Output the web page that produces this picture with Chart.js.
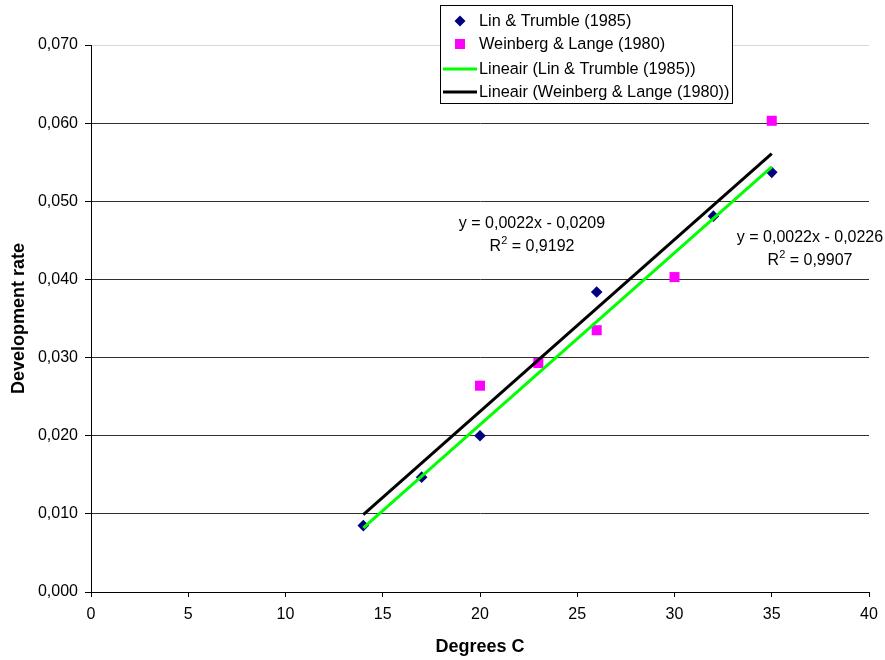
<!DOCTYPE html>
<html><head><meta charset="utf-8">
<script src="https://cdn.jsdelivr.net/npm/chart.js@4/dist/chart.umd.min.js"></script>
<style>html,body{margin:0;padding:0;background:#fff}#wrap{width:885px;height:660px}</style>
</head><body><div id="wrap"><canvas id="c" width="885" height="660"></canvas></div>
<script>
// ---- data ----
const linX = [14, 17, 20, 26, 32, 35];
const linY = [0.0085, 0.0147, 0.0200, 0.0384, 0.0481, 0.0537];
const wlX = [20, 23, 26, 30, 35];
const wlY = [0.0264, 0.0293, 0.0335, 0.0403, 0.0603];
const trendX = [14, 35];
const linTrendY = [0.0082, 0.0544];
const wlTrendY = [0.0099, 0.0561];
const seriesNames = ['Lin & Trumble (1985)', 'Weinberg & Lange (1980)', 'Lineair (Lin & Trumble (1985))', 'Lineair (Weinberg & Lange (1980))'];
const eqLin = ['y = 0,0022x - 0,0226', '0,9907'];
const eqWl = ['y = 0,0022x - 0,0209', '0,9192'];
const xTickValues = [0, 5, 10, 15, 20, 25, 30, 35, 40];
const yTickLabels = ['0,000', '0,010', '0,020', '0,030', '0,040', '0,050', '0,060', '0,070'];
const xTitle = 'Degrees C';
const yTitle = 'Development rate';

const FONT = "'Liberation Sans', Arial, sans-serif";
const NAVY = '#000080', PINK = '#ff00ff', GREEN = '#00ff00', BLACK = '#000000';

function pts(xs, ys) { return xs.map((x, i) => ({x: x, y: ys[i]})); }

const overlay = {
  id: 'overlay',
  afterDraw(chart) {
    const ctx = chart.ctx;
    ctx.save();
    // axis titles
    ctx.fillStyle = '#000';
    ctx.font = 'bold 18px ' + FONT;
    ctx.textAlign = 'center'; ctx.textBaseline = 'middle';
    ctx.fillText(xTitle, (chart.chartArea.left + chart.chartArea.right) / 2, 647);
    ctx.save();
    ctx.translate(19, (chart.chartArea.top + chart.chartArea.bottom) / 2);
    ctx.rotate(-Math.PI / 2);
    ctx.fillText(yTitle, 0, 0);
    ctx.restore();

    // equations
    function drawEq(cx, y1, y2, eq) {
      ctx.fillStyle = '#000';
      ctx.font = '16px ' + FONT;
      ctx.textAlign = 'center'; ctx.textBaseline = 'middle';
      ctx.fillText(eq[0], cx, y1);
      const a = 'R', c = ' = ' + eq[1];
      ctx.font = '16px ' + FONT; const wa = ctx.measureText(a).width; const wc = ctx.measureText(c).width;
      ctx.font = '11px ' + FONT; const wb = ctx.measureText('2').width;
      let x0 = cx - (wa + wb + wc) / 2;
      ctx.textAlign = 'left';
      ctx.font = '16px ' + FONT; ctx.fillText(a, x0, y2);
      ctx.font = '11px ' + FONT; ctx.fillText('2', x0 + wa, y2 - 6);
      ctx.font = '16px ' + FONT; ctx.fillText(c, x0 + wa + wb, y2);
    }
    drawEq(532, 224, 247, eqWl);
    drawEq(810, 238, 261, eqLin);

    // legend
    const bx = 440.5, by = 5.5, bw = 292, bh = 98;
    ctx.fillStyle = '#fff';
    ctx.fillRect(bx, by, bw, bh);
    ctx.strokeStyle = '#000'; ctx.lineWidth = 1;
    ctx.strokeRect(bx, by, bw, bh);
    const rows = [21, 44, 69, 92];
    ctx.font = '16.3px ' + FONT; ctx.textAlign = 'left'; ctx.textBaseline = 'middle';
    rows.forEach((ry, i) => { ctx.fillStyle = '#000'; ctx.fillText(seriesNames[i], 479, ry + 1); });
    // markers
    ctx.fillStyle = NAVY;
    ctx.beginPath(); ctx.moveTo(460, rows[0] - 5.5); ctx.lineTo(465.5, rows[0]); ctx.lineTo(460, rows[0] + 5.5); ctx.lineTo(454.5, rows[0]); ctx.closePath(); ctx.fill();
    ctx.fillStyle = PINK;
    ctx.fillRect(455, rows[1] - 5, 10, 10);
    ctx.lineWidth = 3;
    ctx.strokeStyle = GREEN; ctx.beginPath(); ctx.moveTo(443, rows[2]); ctx.lineTo(477, rows[2]); ctx.stroke();
    ctx.strokeStyle = BLACK; ctx.beginPath(); ctx.moveTo(443, rows[3]); ctx.lineTo(477, rows[3]); ctx.stroke();
    ctx.restore();
  }
};

new Chart(document.getElementById('c'), {
  type: 'scatter',
  data: {
    datasets: [
      { label: seriesNames[2], type: 'line', data: pts(trendX, linTrendY), borderColor: GREEN, borderWidth: 3, pointRadius: 0, fill: false, order: 0 },
      { label: seriesNames[3], type: 'line', data: pts(trendX, wlTrendY), borderColor: BLACK, borderWidth: 3, pointRadius: 0, fill: false, order: 0 },
      { label: seriesNames[0], data: pts(linX, linY), pointStyle: 'rectRot', pointRadius: 5.8, backgroundColor: NAVY, borderColor: NAVY, borderWidth: 0, order: 1 },
      { label: seriesNames[1], data: pts(wlX, wlY), pointStyle: 'rect', pointRadius: 7.1, backgroundColor: PINK, borderColor: PINK, borderWidth: 0, order: 1 }
    ]
  },
  options: {
    responsive: false, animation: false, devicePixelRatio: 1,
    layout: { padding: { left: 0, top: 45, right: 16, bottom: 0 } },
    plugins: { legend: { display: false }, tooltip: { enabled: false } },
    scales: {
      x: {
        type: 'linear', min: 0, max: 40,
        afterBuildTicks: s => { s.ticks = xTickValues.map(v => ({value: v})); },
        afterFit: s => { s.height = 68; s.paddingLeft = 0; s.paddingRight = 0; },
        ticks: { font: { size: 16, family: FONT }, color: '#000', padding: 8, maxRotation: 0, autoSkip: false },
        grid: { drawOnChartArea: false, drawTicks: true, tickLength: 5, color: '#000', tickColor: '#000' },
        border: { display: true, color: '#000', width: 1 }
      },
      y: {
        type: 'linear', min: 0, max: 0.07,
        afterBuildTicks: s => { s.ticks = yTickLabels.map((t, i) => ({value: i * 0.01})); },
        afterFit: s => { s.width = 91; s.paddingTop = 0; s.paddingBottom = 0; },
        ticks: { font: { size: 16, family: FONT }, color: '#000', padding: 7, autoSkip: false,
                 callback: (v, i) => yTickLabels[i] },
        grid: { drawOnChartArea: true, drawTicks: true, tickLength: 6,
                color: c => (c.index === 7 ? '#d8d8d8' : '#303030'), tickColor: '#000', lineWidth: 1 },
        border: { display: true, color: '#000', width: 1 }
      }
    }
  },
  plugins: [overlay]
});
</script>
</body></html>
